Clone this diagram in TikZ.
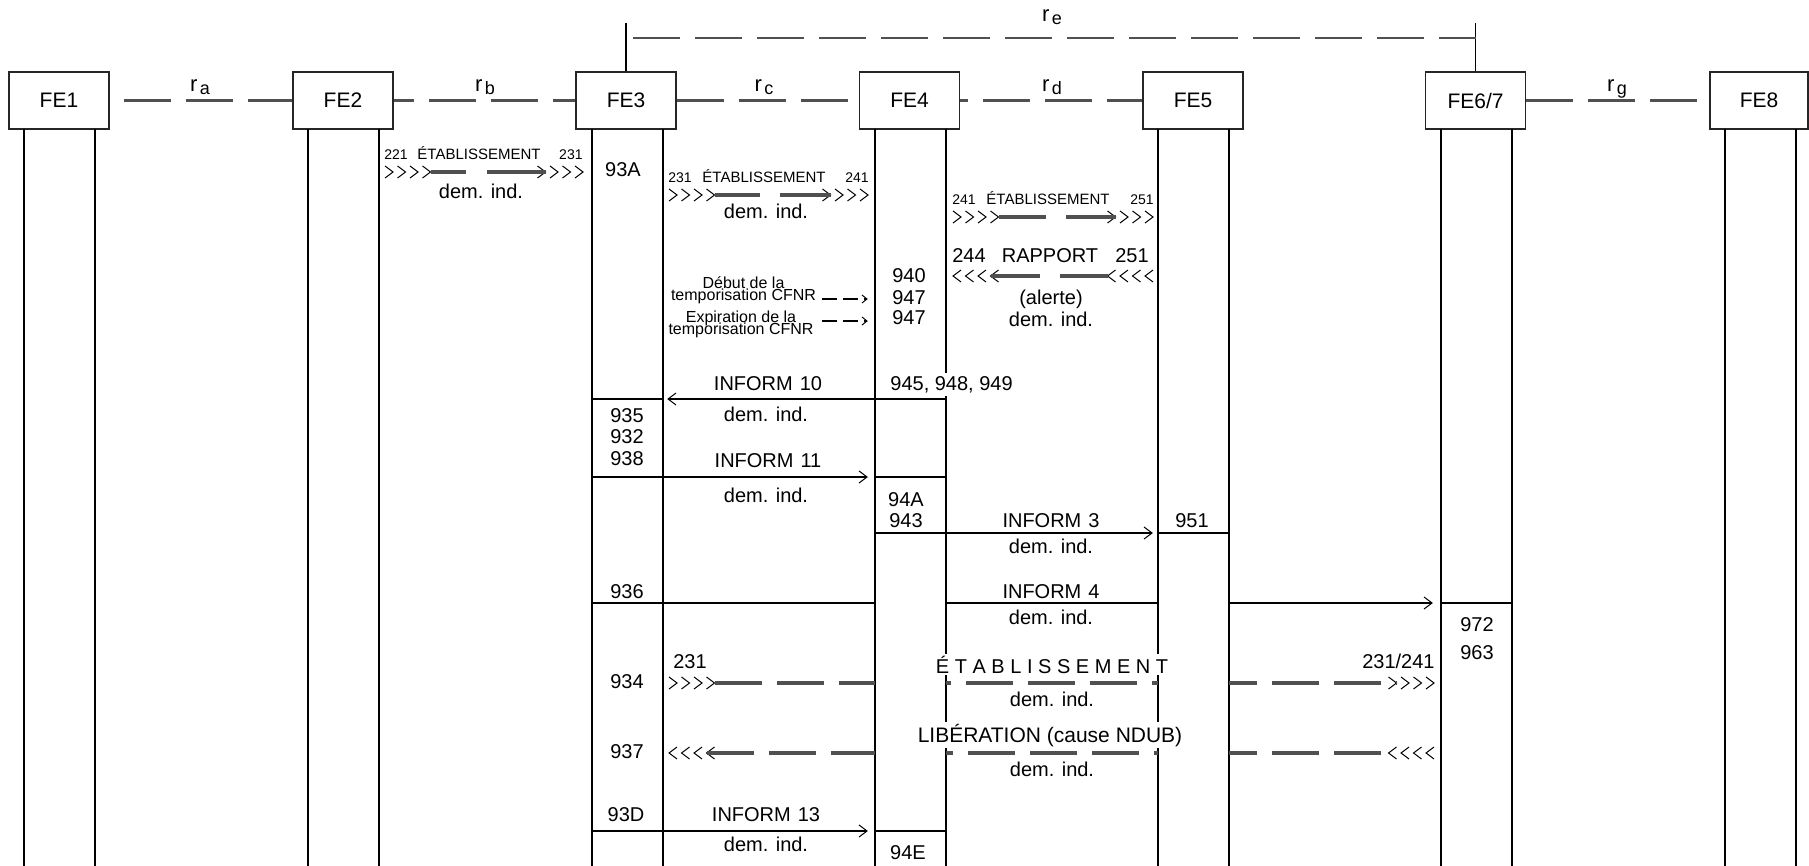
\documentclass[tikz,border=0pt]{standalone}
\usepackage{fontspec}
\setmainfont{Liberation Sans}
\usepackage{tikz}
\definecolor{dgray}{RGB}{80,80,80}
\newcommand\fsz[1]{\fontsize{#1}{#1}\selectfont}
\newcommand\rlab[1]{\fsz{11}r\hspace{1.2pt}\raisebox{-1.5pt}{\fsz{9}#1}}
\newcommand\chR[2]{\draw[chev] (#1-8,#2-6) -- (#1,#2) -- (#1-8,#2+6);}
\newcommand\chL[2]{\draw[chev] (#1+8,#2-6) -- (#1,#2) -- (#1+8,#2+6);}
\newcommand\chRs[2]{\draw[chev] (#1-5,#2-4) -- (#1,#2) -- (#1-5,#2+4);}
\newcommand\grpR[2]{\foreach \i in {0,...,3}{\chR{#1+12.5*\i}{#2}}}
\newcommand\grpL[2]{\foreach \i in {0,...,3}{\chL{#1+12.5*\i}{#2}}}
\begin{document}
\begin{tikzpicture}[x=0.5pt,y=-0.5pt,
  febox/.style={draw=black!85,line width=0.6pt,minimum width=50pt,minimum height=28.5pt,inner sep=0pt,font=\fsz{10.5}},
  life/.style={line width=1pt,black},
  msg/.style={line width=1pt,black},
  chev/.style={line width=0.5pt,black},
  gseg/.style={line width=1.6pt,dgray},
  gdash/.style={line width=1.6pt,dgray,dash pattern=on 23.5pt off 7.5pt},
  rline/.style={line width=1.4pt,dgray,dash pattern=on 23.5pt off 7.5pt},
  cfnr/.style={line width=0.6pt,black,dash pattern=on 7.5pt off 3pt},
  lbl/.style={inner sep=0pt,font=\fsz{10},anchor=base},
  sm/.style={inner sep=0pt,font=\fsz{7.5},anchor=base},
  num/.style={inner sep=0pt,font=\fsz{7}},
  cf/.style={inner sep=0pt,align=center,anchor=south,font={\fontsize{8}{6}\selectfont\lineskiplimit=-20pt}}]
\useasboundingbox (0,0) rectangle (1809,866);
\fill[white] (0,0) rectangle (1809,866);

% functional entity boxes
\node[febox] (FE1) at (59,100.5) {FE1};
\node[febox] (FE2) at (343,100.5) {FE2};
\node[febox] (FE3) at (626,100.5) {FE3};
\node[febox] (FE4) at (909.5,100.5) {FE4};
\node[febox] (FE5) at (1193,100.5) {FE5};
\node[febox] (FE67) at (1475.5,100.5) {FE6/7};
\node[febox,minimum width=49pt] (FE8) at (1759,100.5) {FE8};

% lifelines
\foreach \n/\xa/\xb in {1/24/95,2/308/379,3/592/663,4/875/946,5/1158/1229,6/1441/1512,8/1725/1796}{
  \coordinate (La\n) at (\xa,129);
  \coordinate (Lb\n) at (\xb,129);
  \coordinate (Ea\n) at (\xa,866);
  \coordinate (Eb\n) at (\xb,866);
  \draw[life] (La\n) -- (Ea\n);
  \draw[life] (Lb\n) -- (Eb\n);
}

% relationships
\draw[rline,dash phase=24pt] (FE1.east) -- (FE2.west);
\draw[rline,dash phase=13.5pt] (FE2.east) -- (FE3.west);
\draw[rline] (FE3.east) -- (FE4.west);
\draw[rline,dash phase=19.5pt] (FE4.east) -- (FE5.west);
\draw[rline] (FE67.east) -- (FE8.west);
\coordinate (te3) at (626,23);
\coordinate (te6) at (1475.5,23);
\draw[line width=0.6pt] (te3) -- (FE3.north);
\draw[line width=0.6pt] (te6) -- (FE67.north);
\draw[rline,line width=1.3pt,dash phase=27.5pt] (FE3.north |- 0,38) -- (FE67.north |- 0,38);
\node[anchor=base,inner sep=0pt] (ra) at (200,92) {\rlab{a}};
\node[anchor=base,inner sep=0pt] (rb) at (485,92) {\rlab{b}};
\node[anchor=base,inner sep=0pt] (rc) at (764,92) {\rlab{c}};
\node[anchor=base,inner sep=0pt] (rd) at (1052,92) {\rlab{d}};
\node[anchor=base,inner sep=0pt] (rg) at (1617,92) {\rlab{g}};
\node[anchor=base,inner sep=0pt] (re) at (1052,22) {\rlab{e}};

% texts with white background over lifelines
\node[lbl,anchor=base west,fill=white,inner sep=1.5pt] (t945) at (887,390) {945, 948, 949};
\node[lbl,fill=white,inner sep=1pt] (tEtab) at (1052,673) {É T A B L I S S E M E N T};
\node[lbl,fill=white,inner sep=1pt,font=\fsz{10.5}] (tLib) at (1050,742) {LIBÉRATION (cause NDUB)};

% row A : FE2 -> FE3
\grpR{393}{172} \grpR{545.5}{172}
\draw[gseg] (430.5,172) -- (466,172);
\draw[gseg] (487,172) -- (545.5,172);
\node[num,anchor=base west] (a1) at (384,160) {221};
\node[sm] (a2) at (479,160) {ÉTABLISSEMENT};
\node[num,anchor=base east] (a3) at (583,160) {231};
\node[lbl] (a4) at (481,199) {dem. ind.};
% row B : FE3 -> FE4
\grpR{677}{195} \grpR{830.5}{195}
\draw[gseg] (714.5,195) -- (760,195);
\draw[gseg] (780,195) -- (830.5,195);
\node[num,anchor=base west] (b1) at (668,183) {231};
\node[sm] (b2) at (764,183) {ÉTABLISSEMENT};
\node[num,anchor=base east] (b3) at (869,183) {241};
\node[lbl] (b4) at (766,219) {dem. ind.};
% row C : FE4 -> FE5
\grpR{961}{217} \grpR{1115.5}{217}
\draw[gseg] (998.5,217) -- (1046,217);
\draw[gseg] (1066,217) -- (1115.5,217);
\node[num,anchor=base west] (c1) at (952,205) {241};
\node[sm] (c2) at (1048,205) {ÉTABLISSEMENT};
\node[num,anchor=base east] (c3) at (1154,205) {251};
% row D : FE5 -> FE4
\grpL{953}{276} \grpL{1107.5}{276}
\draw[gseg] (990.5,276) -- (1040,276);
\draw[gseg] (1060,276) -- (1107.5,276);
\node[lbl] (d1) at (969,263) {244};
\node[lbl] (d2) at (1050,263) {RAPPORT};
\node[lbl] (d3) at (1132,263) {251};
\node[lbl] (d4) at (1051,305) {(alerte)};
\node[lbl] (d5) at (1051,326) {dem. ind.};

% CFNR timer
\node[cf] (cf1) at (743.5,304.5) {Début de la\\temporisation CFNR};
\node[cf] (cf2) at (741,338.5) {Expiration de la\\temporisation CFNR};
\draw[cfnr] (822,299) -- (866.5,299); \chRs{867}{299}
\draw[cfnr] (822,321) -- (866.5,321); \chRs{867}{321}

% INFORM 10 : FE4 -> FE3
\draw[msg] (La3 |- 0,399) -- (Lb3 |- 0,399);
\draw[msg] (Lb4 |- 0,399) -- (668,399); \chL{668}{399}
\node[lbl] (i10) at (768,390) {INFORM\hspace{0.35em}10};
\node[lbl] (i10d) at (766,421) {dem. ind.};
% INFORM 11 : FE3 -> FE4
\draw[msg] (La3 |- 0,477) -- (867,477); \chR{867}{477}
\draw[msg] (La4 |- 0,477) -- (Lb4 |- 0,477);
\node[lbl] (i11) at (768,467) {INFORM\hspace{0.35em}11};
\node[lbl] (i11d) at (766,502) {dem. ind.};
% INFORM 3 : FE4 -> FE5
\draw[msg] (La4 |- 0,533) -- (1152,533); \chR{1152}{533}
\draw[msg] (La5 |- 0,533) -- (Lb5 |- 0,533);
\node[lbl] (i3) at (1051,527) {INFORM\hspace{0.35em}3};
\node[lbl] (i3d) at (1051,553) {dem. ind.};
% INFORM 4 : FE3 -> FE6/7
\draw[msg] (La3 |- 0,603) -- (La4 |- 0,603);
\draw[msg] (Lb4 |- 0,603) -- (La5 |- 0,603);
\draw[msg] (Lb5 |- 0,603) -- (1432,603); \chR{1432}{603}
\draw[msg] (La6 |- 0,603) -- (Lb6 |- 0,603);
\node[lbl] (i4) at (1051,598) {INFORM\hspace{0.35em}4};
\node[lbl] (i4d) at (1051,624) {dem. ind.};
% ETABLISSEMENT : FE3 -> FE6/7
\grpR{677}{683} \grpR{1396.5}{683}
\draw[gdash] (714.5,683) -- (La4 |- 0,683);
\draw[gdash,dash phase=21pt] (Lb4 |- 0,683) -- (La5 |- 0,683);
\draw[gdash,dash phase=9.5pt] (Lb5 |- 0,683) -- (1396.5,683);
\node[lbl] (e1) at (690,668) {231};
\node[lbl,anchor=base east] (e2) at (1435,668) {231/241};
\node[lbl] (e3) at (1052,706) {dem. ind.};
% LIBERATION : FE6/7 -> FE3
\grpL{669}{753} \grpL{1388.5}{753}
\draw[gdash] (706.5,753) -- (La4 |- 0,753);
\draw[gdash,dash phase=20pt] (Lb4 |- 0,753) -- (La5 |- 0,753);
\draw[gdash,dash phase=9.5pt] (Lb5 |- 0,753) -- (1388.5,753);
\node[lbl] (l3) at (1052,776) {dem. ind.};
% INFORM 13 : FE3 -> FE4
\draw[msg] (La3 |- 0,831) -- (867,831); \chR{867}{831}
\draw[msg] (La4 |- 0,831) -- (Lb4 |- 0,831);
\node[lbl] (i13) at (766,821) {INFORM\hspace{0.35em}13};
\node[lbl] (i13d) at (766,851) {dem. ind.};

% numbers in FE columns
\node[lbl] (n93A) at (623,177) {93A};
\node[lbl] (n935) at (627,422) {935};
\node[lbl] (n932) at (627,443) {932};
\node[lbl] (n938) at (627,465) {938};
\node[lbl] (n936) at (627,598) {936};
\node[lbl] (n934) at (627,688) {934};
\node[lbl] (n937) at (627,758) {937};
\node[lbl] (n93D) at (626,821) {93D};
\node[lbl] (n940) at (909,283) {940};
\node[lbl] (n947a) at (909,305) {947};
\node[lbl] (n947b) at (909,324) {947};
\node[lbl] (n94A) at (906,506) {94A};
\node[lbl] (n943) at (906,527) {943};
\node[lbl] (n94E) at (908,859) {94E};
\node[lbl] (n951) at (1192,527) {951};
\node[lbl] (n972) at (1477,631) {972};
\node[lbl] (n963) at (1477,659) {963};
\end{tikzpicture}
\end{document}
